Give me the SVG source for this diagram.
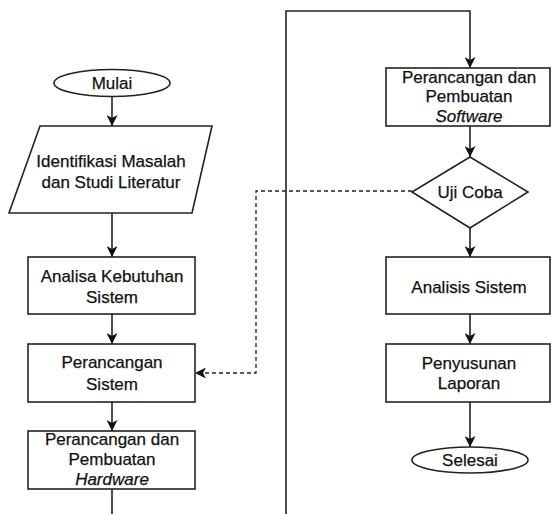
<svg xmlns="http://www.w3.org/2000/svg" width="551" height="514" viewBox="0 0 551 514">
<style>
.s{fill:#fff;stroke:#222;stroke-width:1.6}
.c{fill:none;stroke:#222;stroke-width:1.6}
.d{fill:none;stroke:#222;stroke-width:1.3;stroke-dasharray:4 3}
text{font-family:"Liberation Sans",Arial,sans-serif;font-size:17px;fill:#111;stroke:#111;stroke-width:0.25;text-anchor:middle}
.i{font-style:italic}
</style>
<defs>
<marker id="a" markerWidth="12" markerHeight="11" refX="11" refY="5.5" orient="auto" markerUnits="userSpaceOnUse">
<path d="M0,0 L11,5.5 L0,11 L3,5.5 z" fill="#111"/>
</marker>
</defs>
<rect width="551" height="514" fill="#fff"/>
<g id="connectors">
<line class="c" x1="112" y1="97" x2="112" y2="126" marker-end="url(#a)"/>
<line class="c" x1="112" y1="213" x2="112" y2="257" marker-end="url(#a)"/>
<line class="c" x1="112" y1="314" x2="112" y2="344" marker-end="url(#a)"/>
<line class="c" x1="112" y1="402" x2="112" y2="431" marker-end="url(#a)"/>
<line class="c" x1="112" y1="489" x2="112" y2="514"/>
<polyline class="c" points="286,514 286,11 470,11 470,68" marker-end="url(#a)"/>
<line class="c" x1="470" y1="126" x2="470" y2="157" marker-end="url(#a)"/>
<line class="c" x1="470" y1="228" x2="470" y2="257" marker-end="url(#a)"/>
<line class="c" x1="470" y1="314" x2="470" y2="344" marker-end="url(#a)"/>
<line class="c" x1="470" y1="402" x2="470" y2="447" marker-end="url(#a)"/>
<polyline class="d" points="412,191 256,191 256,373 195,373" marker-end="url(#a)"/>
</g>
<g id="mulai">
<ellipse class="s" cx="112" cy="83" rx="58" ry="13.5"/>
<text x="112" y="89">Mulai</text>
</g>
<g id="identifikasi">
<polygon class="s" points="40,126 212,126 192,213 9,213"/>
<text x="111" y="167">Identifikasi Masalah</text>
<text x="111" y="188">dan Studi Literatur</text>
</g>
<g id="analisa">
<rect class="s" x="28" y="257" width="167" height="57"/>
<text x="112" y="282">Analisa Kebutuhan</text>
<text x="112" y="303">Sistem</text>
</g>
<g id="perancangan-sistem">
<rect class="s" x="28" y="344" width="167" height="58"/>
<text x="112" y="368">Perancangan</text>
<text x="112" y="390">Sistem</text>
</g>
<g id="hardware">
<rect class="s" x="28" y="431" width="167" height="58"/>
<text x="112" y="445">Perancangan dan</text>
<text x="112" y="465">Pembuatan</text>
<text x="112" y="485" class="i">Hardware</text>
</g>
<g id="software">
<rect class="s" x="386" y="68" width="164" height="58"/>
<text x="469" y="83">Perancangan dan</text>
<text x="469" y="102">Pembuatan</text>
<text x="469" y="122" class="i">Software</text>
</g>
<g id="uji-coba">
<polygon class="s" points="470,157 528,192 470,228 412,192"/>
<text x="470" y="198">Uji Coba</text>
</g>
<g id="analisis">
<rect class="s" x="386" y="257" width="164" height="57"/>
<text x="469" y="293">Analisis Sistem</text>
</g>
<g id="penyusunan">
<rect class="s" x="386" y="344" width="164" height="58"/>
<text x="469" y="369">Penyusunan</text>
<text x="469" y="389">Laporan</text>
</g>
<g id="selesai">
<ellipse class="s" cx="470" cy="460" rx="58" ry="13"/>
<text x="470" y="466">Selesai</text>
</g>
</svg>
